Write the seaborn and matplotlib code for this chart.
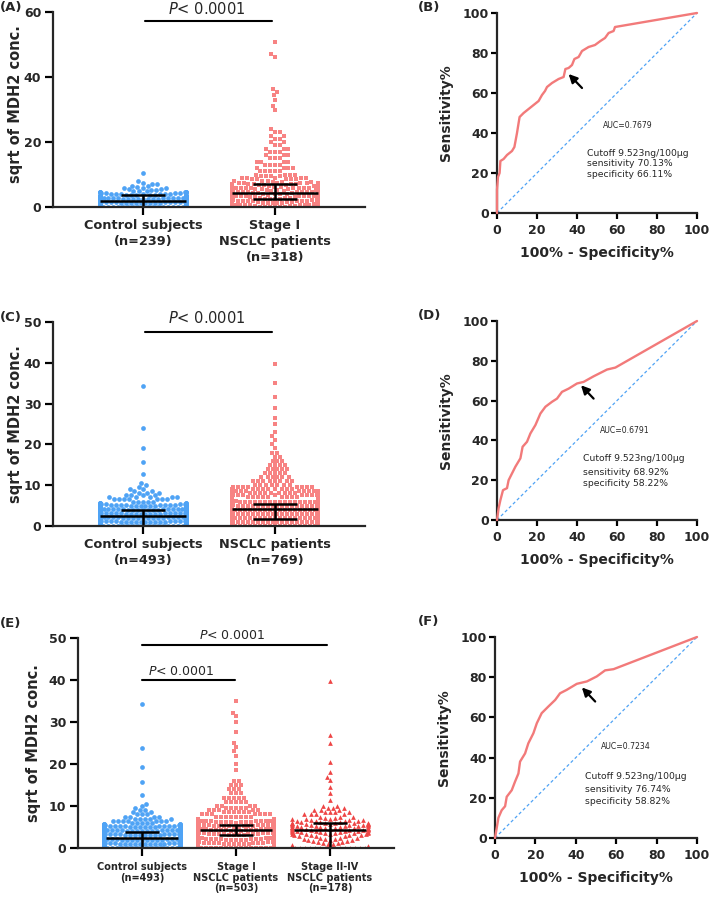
import warnings
warnings.filterwarnings("ignore")
import numpy as np
import pandas as pd
import matplotlib
matplotlib.use("Agg")
import matplotlib.pyplot as plt
import seaborn as sns

sns.set_style("ticks")
plt.rcParams['font.family'] = ['DejaVu Sans']

# ---------------- scatter data (value levels and counts) ----------------
# Panel A controls (n=239)
a_ctrl_vals = [0, 0.25, 0.5, 0.75, 1, 1.25, 1.5, 1.75, 2, 2.25, 2.5, 2.75, 3, 3.25, 3.5, 3.75, 4,
               4.25, 4.5, 4.75, 5, 5.25, 5.5, 5.75, 6, 6.25, 6.5, 7, 7.5, 8, 10.5]
a_ctrl_cnts = [60, 7, 7, 8, 8, 9, 9, 11, 11, 11, 11, 12, 12, 10, 10, 7, 7,
               4, 4, 3, 3, 2, 2, 2, 1, 1, 2, 2, 1, 1, 1]
# Panel A stage I (n=318)
a_st1_vals = [0, 0.25, 0.5, 0.75, 1, 1.25, 1.5, 1.75, 2, 2.25, 2.5, 2.75, 3, 3.25, 3.5, 3.75, 4,
              4.25, 4.5, 4.75, 5, 5.25, 5.5, 5.75, 6, 6.25, 6.5, 6.75, 7, 7.25, 7.5, 7.75, 8,
              8.5, 9, 9.5, 10, 11, 12, 13, 14, 15, 16, 17, 18, 19, 20, 21, 22, 23, 24,
              29.7, 31, 33, 34.4, 35.5, 36.4, 46.2, 47.2, 50.8]
a_st1_cnts = [6, 3, 3, 4, 4, 5, 5, 9, 9, 13, 13, 15, 15, 14, 14, 15, 15,
              11, 11, 8, 8, 6, 6, 5, 5, 4, 4, 4, 5, 3, 3, 3, 3,
              5, 5, 4, 4, 5, 4, 4, 4, 3, 3, 3, 3, 2, 2, 2, 2, 2, 1,
              1, 1, 1, 1, 1, 1, 1, 1, 1]
# Panels C / E controls (n=493)
ctrl_vals = [0, 0.25, 0.5, 0.75, 1, 1.25, 1.5, 1.75, 2, 2.25, 2.5, 2.75, 3, 3.25, 3.5, 3.75, 4,
             4.25, 4.5, 4.75, 5, 5.25, 5.5, 5.75, 6, 6.5, 7, 7.5, 8, 8.5, 9, 9.5, 10, 10.5,
             12.7, 15.7, 19.2, 23.9, 34.3]
ctrl_cnts = [124, 9, 9, 10, 10, 12, 12, 15, 15, 18, 18, 22, 22, 23, 23, 21, 21,
             15, 15, 11, 11, 8, 8, 5, 5, 7, 5, 4, 3, 2, 2, 1, 1, 1,
             1, 1, 1, 1, 1]
# Panel C NSCLC (n=769)
c_nsclc_vals = [0, 0.25, 0.5, 0.75, 1, 1.25, 1.5, 1.75, 2, 2.25, 2.5, 2.75, 3, 3.25, 3.5, 3.75, 4,
                4.25, 4.5, 4.75, 5, 5.25, 5.5, 5.75, 6, 6.25, 6.5, 6.75, 7, 7.5, 8, 8.5, 9, 9.5, 10,
                11, 12, 13, 14, 15, 16, 17, 18, 19, 20, 21, 22, 23, 25, 26.5, 29, 31.5, 35.1, 39.8]
c_nsclc_cnts = [70, 20, 20, 22, 23, 25, 25, 20, 20, 17, 18, 20, 20, 20, 20, 22, 23,
                30, 30, 30, 30, 27, 28, 20, 20, 12, 13, 9, 9, 14, 12, 10, 9, 8, 7,
                8, 6, 5, 5, 4, 3, 2, 2, 1, 1, 1, 1, 1, 1, 1, 1, 1, 1, 1]
# Panel E stage I (n=503)
e_st1_vals = [0, 0.25, 0.5, 0.75, 1, 1.25, 1.5, 1.75, 2, 2.25, 2.5, 2.75, 3, 3.25, 3.5, 3.75, 4,
              4.25, 4.5, 4.75, 5, 5.25, 5.5, 5.75, 6, 6.25, 6.5, 6.75, 7, 7.5, 8, 8.5, 9, 9.5, 10,
              11, 12, 13, 14, 15, 16, 18.5, 20, 22, 23, 24, 25, 27.7, 30.1, 31.4, 32.2, 35.1]
e_st1_cnts = [20, 5, 5, 6, 6, 7, 7, 8, 8, 11, 11, 20, 20, 24, 24, 27, 28,
              30, 30, 25, 25, 20, 20, 12, 13, 7, 7, 5, 5, 8, 7, 6, 5, 5, 4,
              5, 5, 3, 3, 3, 2, 1, 1, 1, 1, 1, 1, 1, 1, 1, 1, 1]
# Panel E stage II-IV (n=178)
e_st24_vals = [0, 0.25, 0.5, 0.75, 1, 1.25, 1.5, 1.75, 2, 2.25, 2.5, 2.75, 3, 3.25, 3.5, 3.75, 4,
               4.25, 4.5, 4.75, 5, 5.25, 5.5, 5.75, 6, 6.25, 6.5, 6.75, 7, 7.25, 7.5, 8, 8.5, 9, 9.5, 10,
               11.4, 13, 14.6, 16.2, 17, 18, 20.5, 24.9, 26.9, 39.8]
e_st24_cnts = [48, 1, 1, 1, 2, 2, 2, 2, 3, 3, 3, 3, 4, 4, 4, 5, 5,
               5, 5, 5, 5, 5, 5, 5, 6, 3, 4, 3, 3, 2, 3, 4, 4, 3, 3, 2,
               1, 1, 1, 1, 1, 1, 1, 1, 1, 1]

# median / IQR
a_med, a_q1, a_q3 = [2.0, 4.2], [0.0, 2.6], [3.6, 7.0]
c_med, c_q1, c_q3 = [2.5, 4.2], [0.1, 1.7], [3.9, 5.5]
e_med, e_q1, e_q3 = [2.5, 4.4, 4.2], [0.1, 3.2, 0.1], [3.9, 5.5, 6.0]

a_labels = ["Control subjects\n(n=239)", "Stage I\nNSCLC patients\n(n=318)"]
c_labels = ["Control subjects\n(n=493)", "NSCLC patients\n(n=769)"]
e_labels = ["Control subjects\n(n=493)", "Stage I\nNSCLC patients\n(n=503)",
            "Stage II-IV\nNSCLC patients\n(n=178)"]

# ---------------- ROC data ----------------
fpr_B = [0, 0, 0.5, 1.3, 1.7, 3.3, 5, 7.5, 8.7, 10, 10.8, 11.3, 13.3, 15.8, 18.3, 20.8, 22.5, 24, 25, 27.5,
         30.8, 33.3, 34.2, 35.8, 37.5, 38.7, 40.8, 42.5, 45.8, 49, 51.7, 54, 55.8, 58.3, 59, 100]
tpr_B = [0, 11.7, 18, 20, 26, 27, 29, 31, 33, 40, 45, 48, 50, 52, 54, 56, 59, 61, 63, 65,
         67, 68, 72, 72.5, 74, 77, 78, 81, 83, 84, 86, 87.5, 90, 91, 93, 100]
fpr_D = [0, 0.8, 1.7, 3, 5, 5.8, 7.5, 9.2, 11.7, 12.8, 15, 16.7, 19.2, 21.7, 24.2, 27.5, 30, 32.5, 35.8,
         40, 43.3, 48.3, 55, 59.2, 100]
tpr_D = [0, 5.9, 10, 15, 16, 20, 23.4, 26.8, 31, 36.8, 39.3, 43.5, 47.7, 53.5, 56.9, 59.4, 61, 64.4, 66,
         68.6, 69.4, 72.2, 75.6, 76.6, 100]
fpr_F = [0, 0.8, 1.7, 3.3, 5, 5.8, 8.3, 9.9, 11.6, 12.4, 14.9, 16.5, 19, 20.7, 23.1, 26.4, 29.8, 32.2, 35.5,
         40.5, 45.5, 50.4, 54.5, 58.7, 100]
tpr_F = [0, 4.7, 10.1, 13.8, 15.8, 20.5, 23.8, 28, 32.1, 38, 42.1, 47.1, 52.1, 57.1, 62.1, 65.4, 68.7, 72, 73.7,
         76.7, 77.9, 80.4, 83.4, 84, 100]
auc_texts = ["AUC=0.7679", "AUC=0.6791", "AUC=0.7234"]
cut_texts = [["Cutoff 9.523ng/100μg", "sensitivity 70.13%", "specificity 66.11%"],
             ["Cutoff 9.523ng/100μg", "sensitivity 68.92%", "specificity 58.22%"],
             ["Cutoff 9.523ng/100μg", "sensitivity 76.74%", "specificity 58.82%"]]

BLUE = "#4FA3F5"
PINK = "#F78383"
RED = "#EE4545"
ROC_C = "#F27A7A"

W, H = 709, 900
fig = plt.figure(figsize=(W / 100, H / 100), dpi=100)


def px_axes(left, top, right, bottom):
    return fig.add_axes([left / W, 1 - bottom / H, (right - left) / W, (bottom - top) / H])


def style_axes(ax, ticklen):
    sns.despine(ax=ax)
    for s in ("left", "bottom"):
        ax.spines[s].set_linewidth(1.6)
        ax.spines[s].set_zorder(6)
    ax.tick_params(axis='both', width=1.6, length=ticklen, color='black')


def scatter_panel(ax, groups, positions, colors, markers, med, q1, q3, halfw, capsize,
                  labels, label_fs, linesp, xpad, ylim, yticks, xlim):
    for (vals, cnts), pos, col, mk in zip(groups, positions, colors, markers):
        y = np.repeat(vals, cnts)
        df = pd.DataFrame({"x": np.full(len(y), float(pos)), "y": y})
        sns.swarmplot(data=df, x="x", y="y", native_scale=True, orient="x", color=col,
                      marker=mk, size=3.4, linewidth=0, ax=ax, zorder=2)
    pos = np.array(positions, dtype=float)
    med, q1, q3 = map(np.array, (med, q1, q3))
    ax.errorbar(pos, med, yerr=[med - q1, q3 - med], fmt='none', ecolor='black',
                elinewidth=1.8, capsize=capsize, capthick=1.8, zorder=5)
    ax.hlines(med, pos - halfw, pos + halfw, color='black', lw=1.8, zorder=5)
    ax.set_xlim(*xlim)
    ax.set_ylim(*ylim)
    ax.set_yticks(yticks)
    ax.set_yticklabels([str(v) for v in yticks], fontsize=9, fontweight='bold')
    ax.set_xticks(pos)
    ax.set_xticklabels(labels, fontsize=label_fs, fontweight='bold')
    for t in ax.get_xticklabels():
        t.set_linespacing(linesp)
    ax.set_xlabel("")
    ax.set_ylabel("sqrt of MDH2 conc.", fontsize=10.5, fontweight='bold')
    style_axes(ax, 5.5)
    ax.tick_params(axis='y', pad=3)
    ax.tick_params(axis='x', pad=xpad)


def bracket(ax, x0, x1, yline, xtext, ytext, fs):
    ax.plot([x0, x1], [yline, yline], color='black', lw=1.5, clip_on=False)
    ax.text(xtext, ytext, r"$\mathit{P}$< 0.0001", fontsize=fs, fontweight='normal',
            ha='center', va='center', clip_on=False)


def roc_panel(ax, fpr, tpr, tail, head, auc_xy, auc_text, cut_x, cut_ys, cut_lines):
    sns.lineplot(x=[0, 100], y=[0, 100], color=BLUE, lw=0.9, linestyle=(0, (2.5, 2)),
                 ax=ax, estimator=None, sort=False)
    sns.lineplot(x=fpr, y=tpr, color=ROC_C, lw=1.7, ax=ax, estimator=None, sort=False,
                 clip_on=False, zorder=7)
    ax.annotate("", xy=head, xytext=tail,
                arrowprops=dict(arrowstyle="-|>,head_length=0.5,head_width=0.25",
                                color='black', lw=1.6, shrinkA=0, shrinkB=0))
    ax.text(auc_xy[0], auc_xy[1], auc_text, fontsize=5.6, va='center', ha='left')
    for yy, line in zip(cut_ys, cut_lines):
        ax.text(cut_x, yy, line, fontsize=6.7, va='center', ha='left')
    ax.set_xlim(0, 100)
    ax.set_ylim(0, 100)
    ticks = list(range(0, 101, 20))
    ax.set_xticks(ticks)
    ax.set_xticklabels([str(v) for v in ticks], fontsize=9, fontweight='bold')
    ax.set_yticks(ticks)
    ax.set_yticklabels([str(v) for v in ticks], fontsize=9, fontweight='bold')
    ax.set_xlabel("100% - Specificity%", fontsize=10, fontweight='bold')
    ax.set_ylabel("Sensitivity%", fontsize=10, fontweight='bold')
    ax.xaxis.set_label_coords(0.5, -0.165)
    ax.yaxis.set_label_coords(-0.22, 0.5)
    style_axes(ax, 4)
    ax.tick_params(axis='x', pad=4)
    ax.tick_params(axis='y', pad=2)


# ---------------- Panel A ----------------
pos_AC = [0.0, 1.23]
axA = px_axes(53, 12, 365, 207)
scatter_panel(axA, [(a_ctrl_vals, a_ctrl_cnts), (a_st1_vals, a_st1_cnts)], pos_AC,
              [BLUE, PINK], ['o', 's'], a_med, a_q1, a_q3, 0.40, 15.5,
              a_labels, 9.3, 1.3, 3, (0, 60), [0, 20, 40, 60], (-0.839, 2.069))
axA.yaxis.set_label_coords(-0.097, 0.53)
bracket(axA, 0.02, 1.20, 57.2, 0.597, 61.0, 10.5)

# ---------------- Panel B ----------------
axB = px_axes(497, 13, 697, 213)
roc_panel(axB, fpr_B, tpr_B, (42.5, 62.5), (35.8, 69.5), (53, 44), auc_texts[0],
          45, [30, 24.7, 19.2], cut_texts[0])

# ---------------- Panel C ----------------
axC = px_axes(53, 322, 365, 526)
scatter_panel(axC, [(ctrl_vals, ctrl_cnts), (c_nsclc_vals, c_nsclc_cnts)], pos_AC,
              [BLUE, PINK], ['o', 's'], c_med, c_q1, c_q3, 0.40, 15.5,
              c_labels, 9.3, 1.3, 3, (0, 50), [0, 10, 20, 30, 40, 50], (-0.839, 2.069))
axC.yaxis.set_label_coords(-0.097, 0.5)
bracket(axC, 0.02, 1.20, 47.5, 0.597, 50.9, 10.5)

# ---------------- Panel D ----------------
axD = px_axes(497, 321, 697, 520)
roc_panel(axD, fpr_D, tpr_D, (48.3, 61), (42, 67.7), (51.3, 45), auc_texts[1],
          43, [31, 24, 18.4], cut_texts[1])

# ---------------- Panel E ----------------
pos_E = [0.0, 1.0, 2.0]
axE = px_axes(78, 638, 394, 848)
scatter_panel(axE, [(ctrl_vals, ctrl_cnts), (e_st1_vals, e_st1_cnts), (e_st24_vals, e_st24_cnts)],
              pos_E, [BLUE, PINK, RED], ['o', 's', '^'], e_med, e_q1, e_q3, 0.38, 12,
              e_labels, 7, 1.1, 4.5, (0, 50), [0, 10, 20, 30, 40, 50], (-0.68, 2.68))
axE.yaxis.set_label_coords(-0.116, 0.5)
bracket(axE, 0.0, 1.965, 48.3, 0.963, 50.5, 9)
bracket(axE, 0.0, 0.99, 40.0, 0.42, 42.1, 9)

# ---------------- Panel F ----------------
axF = px_axes(495, 637, 697, 838)
roc_panel(axF, fpr_F, tpr_F, (49.6, 67.9), (43, 74.9), (52.4, 45.4), auc_texts[2],
          44.6, [30.4, 24.1, 18], cut_texts[2])

# panel letters
for lab, x, y in [("(A)", 0, 8), ("(B)", 418, 8), ("(C)", 0, 318),
                  ("(D)", 418, 315), ("(E)", 0, 623), ("(F)", 418, 621)]:
    fig.text(x / W, 1 - y / H, lab, fontsize=9.5, fontweight='bold', ha='left', va='center')

fig.savefig("out.png", dpi=100)
